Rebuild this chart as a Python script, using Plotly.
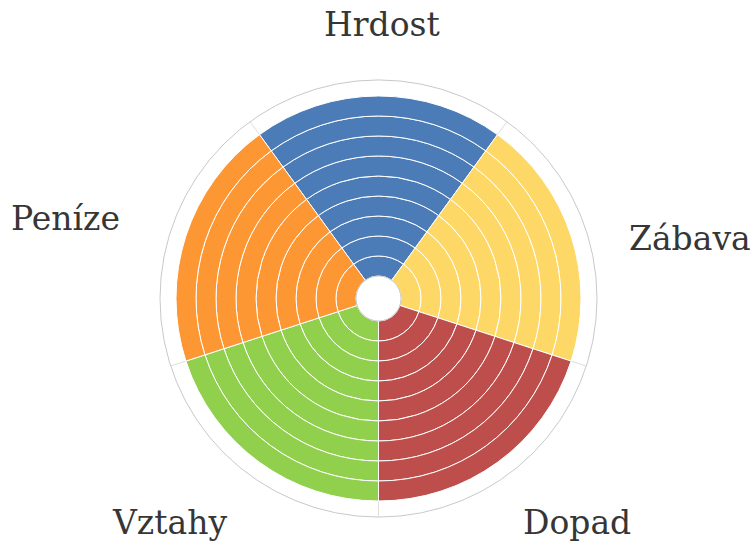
import plotly.graph_objects as go

# ---- data ----
categories = ["Hrdost", "Zábava", "Dopad", "Vztahy", "Peníze"]
scores = [9, 9, 9, 9, 9]          # number of filled rings per category
colors = ["#4b7cb7", "#fed867", "#bd4e4b", "#91d04d", "#fd9733"]

# ---- layout helpers ----
W, H = 754, 543
n = len(categories)
step = 360 / n
theta = [i * step for i in range(n)]
boundaries = [t + step / 2 for t in theta]

# label centres in pixels (measured from reference)
label_px = [(382, 25), (690, 238), (577, 522), (169, 522), (65, 218)]

fig = go.Figure()
max_level = max(scores)
for lvl in range(max_level):
    fig.add_trace(go.Barpolar(
        theta=theta,
        r=[1 if s > lvl else 0 for s in scores],
        width=[step] * n,
        marker=dict(color=colors, line=dict(color="white", width=1)),
        hoverinfo="skip",
        showlegend=False,
    ))

cx, cy, rad = 378.5, 298.5, 218.5
fig.update_layout(
    width=W, height=H,
    margin=dict(l=0, r=0, t=0, b=0),
    paper_bgcolor="white",
    plot_bgcolor="white",
    polar=dict(
        bgcolor="white",
        hole=0.103,
        barmode="stack",
        bargap=0,
        domain=dict(x=[(cx - rad) / W, (cx + rad) / W],
                    y=[1 - (cy + rad) / H, 1 - (cy - rad) / H]),
        radialaxis=dict(range=[0, 9.8], visible=False, showgrid=False),
        angularaxis=dict(
            rotation=90, direction="clockwise",
            tickmode="array", tickvals=boundaries, showticklabels=False,
            ticks="", showgrid=True, gridcolor="#dedede", gridwidth=1,
            showline=True, linecolor="#c9c9c9", linewidth=1,
        ),
    ),
    annotations=[
        dict(text=c, x=px / W, y=1 - py / H, xref="paper", yref="paper",
             xanchor="center", yanchor="middle", showarrow=False,
             font=dict(family="DejaVu Serif", size=33, color="#363636"))
        for c, (px, py) in zip(categories, label_px)
    ],
)

fig.write_html("out.html", config={"displayModeBar": False},
               post_script="document.body.style.margin='0';")
